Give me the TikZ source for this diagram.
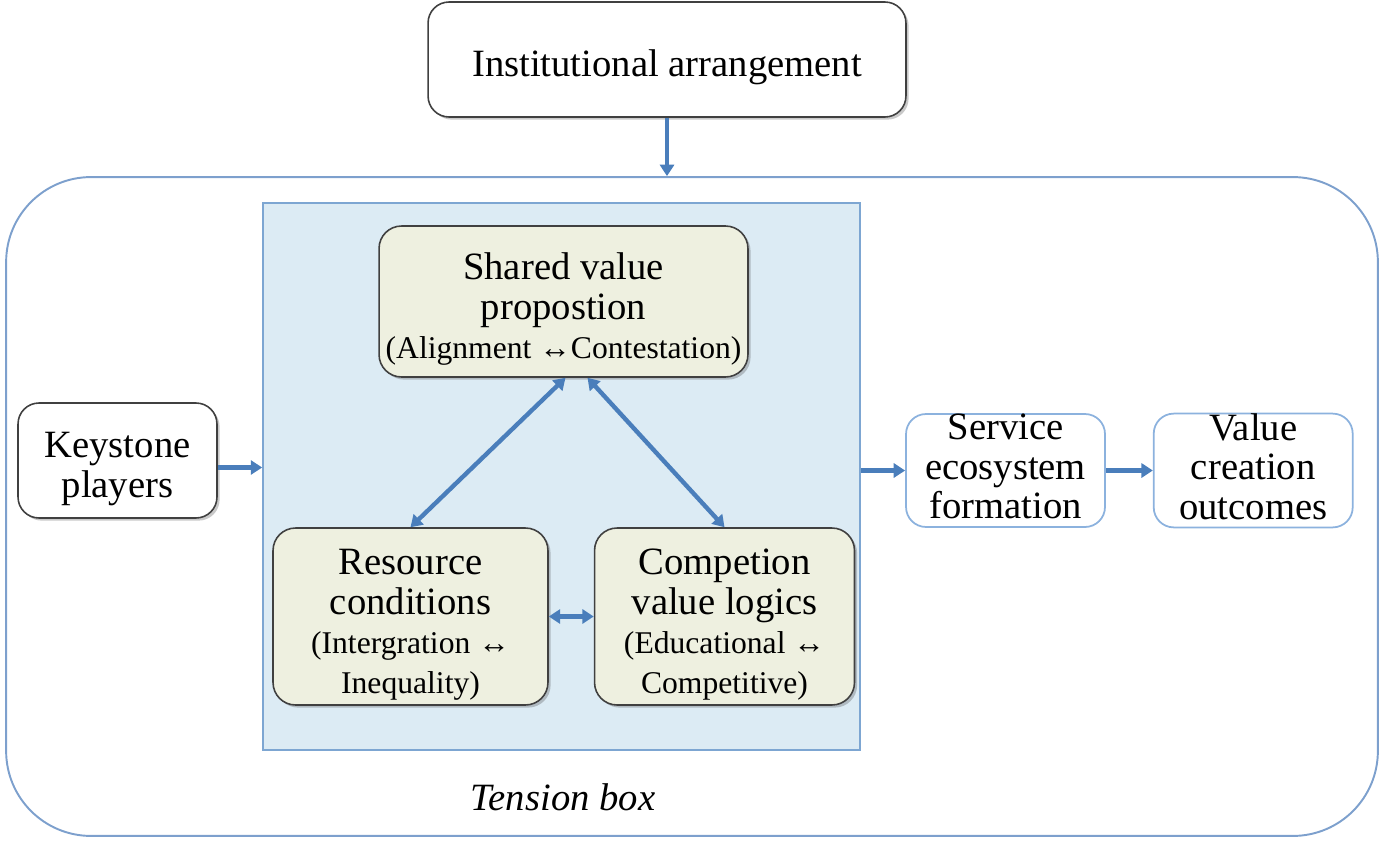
\documentclass[tikz,border=0pt]{standalone}
\usepackage{fontspec}
\setmainfont{Liberation Serif}
\usetikzlibrary{positioning,calc,shadows,arrows.meta}
\definecolor{arrowblue}{RGB}{74,126,187}
\definecolor{frameblue}{RGB}{125,160,205}
\definecolor{tensionfill}{RGB}{220,235,244}
\definecolor{tensionline}{RGB}{125,166,210}
\definecolor{itemfill}{RGB}{238,240,224}
\definecolor{lightline}{RGB}{140,178,222}
\newcommand{\minorsize}{\fontsize{18}{22.5}\selectfont}
\newcommand{\topgap}{\rule{0pt}{24pt}} % pushes the lines a bit down
\newcommand{\botgap}{\rule[-4.5pt]{0pt}{4.5pt}} % pushes the lines a bit up
\tikzset{
x=0.02cm, y=-0.02cm, % one unit is one pixel of the sketch
every node/.style={font=\fontsize{22}{22.5}\selectfont, align=center, inner sep=0pt},
softshadow/.style={drop shadow={shadow xshift=1.5pt, shadow yshift=-1.5pt, opacity=0.3, fill=black!70}},
plainbox/.style={draw=black!75, line width=0.9pt, rounded corners=0.42cm, fill=white, softshadow},
tensionitem/.style={draw=black!75, line width=0.9pt, rounded corners=0.45cm, fill=itemfill, softshadow},
outcomebox/.style={draw=lightline, line width=1pt, rounded corners=0.4cm, fill=white,
  minimum width=3.98cm, minimum height=2.26cm},
flow/.style={draw=arrowblue, line width=2.5pt, -{Triangle[length=6.5pt,width=8pt]}},
twoway/.style={draw=arrowblue, line width=2.5pt,
  {Triangle[length=6.5pt,width=8pt]}-{Triangle[length=6.5pt,width=8pt]}},
}

\begin{document}
\begin{tikzpicture}
\useasboundingbox (0,0) rectangle (1382,848);
% outer frame and tension box
\node[draw=frameblue, line width=1.1pt, rounded corners=1.7cm, minimum width=27.44cm, minimum height=13.18cm] (eco) at (692,506.5) {};
\node[draw=tensionline, fill=tensionfill, line width=1pt, minimum width=11.94cm, minimum height=10.94cm] (tension) at (561.5,476.5) {};
\node[font=\fontsize{22}{22.5}\selectfont\itshape] (label) at (563,797) {Tension box};

\node[plainbox, minimum width=9.56cm, minimum height=2.3cm] (inst) at (667,59.5) {\topgap Institutional arrangement};
\node[plainbox, minimum width=3.98cm, minimum height=2.3cm] (keystone) at (117.5,460.5) {\topgap Keystone\\players};

\node[tensionitem, minimum width=7.38cm, minimum height=3.02cm] (shared) at (563.5,301.5)
  {\topgap Shared value\\propostion\\{\minorsize (Alignment ↔Contestation)}};
\node[tensionitem, minimum width=5.5cm, minimum height=3.54cm] (resource) at (410.5,616.5)
  {\topgap Resource\\conditions\\{\minorsize (Intergration ↔}\\{\minorsize Inequality)}};
\node[tensionitem, minimum width=5.2cm, minimum height=3.54cm, right=0.9cm of resource] (compet)
  {\topgap Competion\\value logics\\{\minorsize (Educational ↔}\\{\minorsize Competitive)}};

\node[outcomebox] (service) at (1005.5,470.5) {Service\\ecosystem\\formation\botgap};
\node[outcomebox, right=0.94cm of service] (value) {Value\\creation\\outcomes\botgap};

% connectors
\draw[flow] (inst.south) -- (inst.south |- eco.north);
\draw[flow] ([yshift=-0.14cm]keystone.east) -- ([yshift=-0.14cm]keystone.east -| tension.west);
\draw[flow] (tension.east |- service.west) -- (service.west);
\draw[flow] (service) -- (value);
\draw[twoway] ($(shared.south)+(2,0)$) -- (resource.north);
\draw[twoway] ($(shared.south)+(24,0)$) -- (compet.north);
\draw[twoway] (resource) -- (compet);
\end{tikzpicture}
\end{document}
